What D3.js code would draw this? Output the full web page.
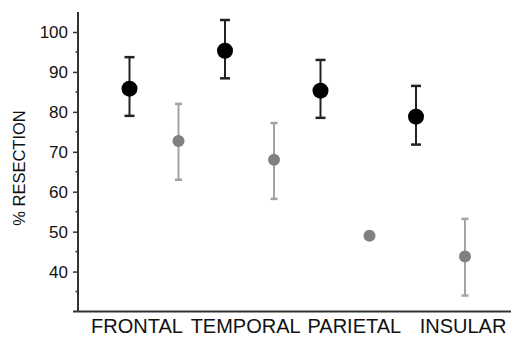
<!DOCTYPE html>
<html><head><meta charset="utf-8">
<script src="https://cdn.jsdelivr.net/npm/d3@7"></script>
<style>body{margin:0;background:#fff}svg{display:block}text{font-family:"Liberation Sans",Arial,sans-serif}</style>
</head><body>
<script>
const categories = ["FRONTAL","TEMPORAL","PARIETAL","INSULAR"];
const blackMean = [85.8, 95.3, 85.3, 78.8];
const blackLow  = [79.0, 88.4, 78.5, 71.8];
const blackHigh = [93.7, 103.0, 93.0, 86.5];
const grayMean  = [72.7, 68.0, 49.0, 43.8];
const grayLow   = [63.0, 58.2, null, 34.0];
const grayHigh  = [82.0, 77.2, null, 53.2];
const yTicks = [40, 50, 60, 70, 80, 90, 100];
const yMinor = [35, 45, 55, 65, 75, 85, 95];
const yTitle = "% RESECTION";

const W = 511, H = 338;
const svg = d3.select("body").append("svg").attr("width", W).attr("height", H);
const y = d3.scaleLinear().domain([30, 100]).range([311.5, 32]);
const xG = d3.scalePoint().domain(categories).range([154, 440.5]);
const xL = d3.scalePoint().domain(categories).range([137, 463]);
const off = 24.5;
const axX = 78;

// y axis
const yAxis = d3.axisLeft(y).tickValues(yTicks).tickSize(5).tickPadding(5);
const gy = svg.append("g").attr("transform", `translate(${axX},0)`).call(yAxis);
gy.select(".domain").remove();
gy.selectAll(".tick line").attr("stroke", "#333").attr("stroke-width", 1.5);
gy.selectAll(".tick text").attr("font-size", 17).attr("fill", "#111").attr("font-family", '"Liberation Sans",Arial,sans-serif');
svg.append("line").attr("x1", axX).attr("x2", axX).attr("y1", y(105)).attr("y2", y(30))
  .attr("stroke", "#333").attr("stroke-width", 2);
svg.selectAll(".minor").data(yMinor).enter().append("line")
  .attr("x1", axX - 2.5).attr("x2", axX).attr("y1", d => y(d)).attr("y2", d => y(d))
  .attr("stroke", "#333").attr("stroke-width", 1.5);

// x axis
svg.append("line").attr("x1", 73).attr("x2", 511).attr("y1", y(30)).attr("y2", y(30))
  .attr("stroke", "#333").attr("stroke-width", 2);
svg.selectAll(".xl").data(categories).enter().append("text")
  .attr("x", d => xL(d)).attr("y", 333).attr("text-anchor", "middle")
  .attr("font-size", 20).attr("fill", "#111").text(d => d);

// y title
svg.append("text").attr("transform", `translate(25,168) rotate(-90)`)
  .attr("text-anchor", "middle").attr("font-size", 16.5).attr("fill", "#111").text(yTitle);

function series(mean, lo, hi, dx, col, barCol, r, cap, sw) {
  const g = svg.append("g");
  const idx = d3.range(categories.length);
  const eb = idx.filter(i => lo[i] != null && hi[i] != null);
  g.selectAll(".v").data(eb).enter().append("line")
    .attr("x1", i => xG(categories[i]) + dx).attr("x2", i => xG(categories[i]) + dx)
    .attr("y1", i => y(hi[i])).attr("y2", i => y(lo[i]))
    .attr("stroke", barCol).attr("stroke-width", sw);
  [hi, lo].forEach(arr => {
    g.selectAll(null).data(eb).enter().append("line")
      .attr("x1", i => xG(categories[i]) + dx - cap).attr("x2", i => xG(categories[i]) + dx + cap)
      .attr("y1", i => y(arr[i])).attr("y2", i => y(arr[i]))
      .attr("stroke", barCol).attr("stroke-width", sw + 0.5);
  });
  g.selectAll("circle").data(idx).enter().append("circle")
    .attr("cx", i => xG(categories[i]) + dx).attr("cy", i => y(mean[i]))
    .attr("r", r).attr("fill", col);
}
series(grayMean, grayLow, grayHigh, off, "#808080", "#a3a3a3", 6, 3.5, 2);
series(blackMean, blackLow, blackHigh, -off, "#000", "#222", 8, 5, 2);
</script>
</body></html>
